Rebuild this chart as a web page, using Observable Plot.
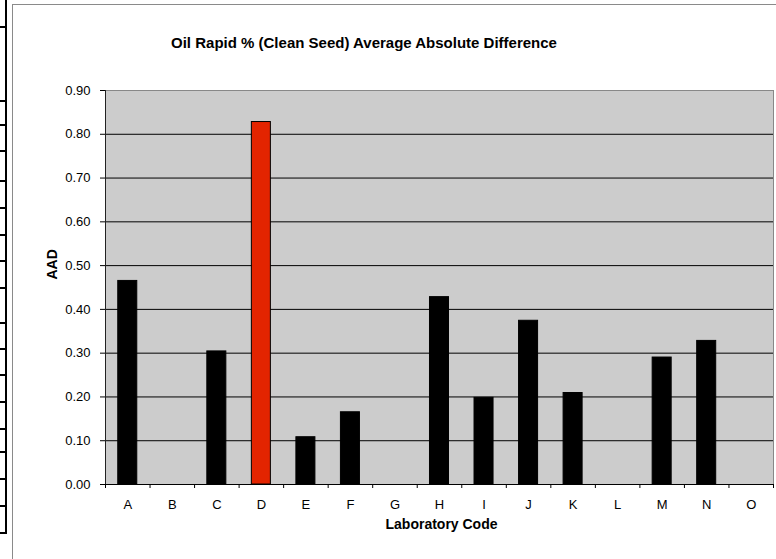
<!DOCTYPE html>
<html>
<head>
<meta charset="utf-8">
<script src="https://cdn.jsdelivr.net/npm/d3@7"></script>
<script src="https://cdn.jsdelivr.net/npm/@observablehq/plot@0.6"></script>
<style>
  html, body { margin: 0; padding: 0; background: #fff; }
  #wrap { position: relative; width: 776px; height: 559px; overflow: hidden; }
  #chart { position: absolute; left: 0; top: 0; }
  .outer { position: absolute; left: 12px; top: 4px; width: 800px; height: 600px;
           border-left: 1.5px solid #8a8a8a; border-top: 1.5px solid #8a8a8a; }
  .tbl-v { position: absolute; left: 5px; top: 0; width: 2px; background: #000; }
  .tbl-h { position: absolute; left: 0; width: 7px; height: 2px; background: #000; }
</style>
</head>
<body>
<div id="wrap">
  <div class="outer"></div>
  <div id="chart"></div>
</div>
<script>
// ---- data ----
const labs = ["A","B","C","D","E","F","G","H","I","J","K","L","M","N","O"];
const aad  = [0.465, null, 0.304, 0.828, 0.108, 0.165, null, 0.428, 0.198, 0.374, 0.209, null, 0.290, 0.328, null];
const highlight = "D";
const yTicks = [0, 0.1, 0.2, 0.3, 0.4, 0.5, 0.6, 0.7, 0.8, 0.9];
const titleText = "Oil Rapid % (Clean Seed) Average Absolute Difference";
const xTitle = "Laboratory Code";
const yTitle = "AAD";
// cropped neighbouring table rows (decoration at left edge)
const tableRows = [26, 100, 124, 150, 180, 207, 234, 260, 287, 322, 348, 374, 401, 428, 451, 478, 505, 532];

const data = labs.map((lab, i) => ({lab, i, aad: aad[i]})).filter(d => d.aad != null);
const half = 0.2135; // half bar width in category units

const font = "'Liberation Sans', Arial, sans-serif";

const chart = Plot.plot({
  width: 776,
  height: 559,
  marginLeft: 105,
  marginRight: 3,
  marginTop: 90,
  marginBottom: 75,
  x: {domain: [0, labs.length]},
  y: {domain: [0, 0.9]},
  style: {fontFamily: font, background: "transparent", color: "#000"},
  marks: [
    Plot.frame({fill: "#cccccc", stroke: null}),
    Plot.gridY(yTicks.filter(v => v > 0 && v < 0.9), {stroke: "#000", strokeOpacity: 1}),
    Plot.frame({anchor: "top", stroke: "#888"}),
    Plot.frame({anchor: "right", stroke: "#888"}),
    Plot.rectY(data, {
      x1: d => d.i + 0.5 - half,
      x2: d => d.i + 0.5 + half,
      y1: 0,
      y2: "aad",
      fill: d => d.lab === highlight ? "#e32400" : "#000",
      stroke: "#000",
      strokeWidth: 1
    }),
    Plot.frame({anchor: "left", stroke: "#222"}),
    Plot.ruleY([0], {stroke: "#000"}),
    Plot.axisY({ticks: yTicks, tickFormat: d3.format(".2f"), tickSize: 5, tickPadding: 10, fontSize: 13, label: null}),
    Plot.axisX({ticks: d3.range(labs.length + 1), tickFormat: () => "", tickSize: 4, label: null}),
    Plot.text(labs, {x: (d, i) => i + 0.5, frameAnchor: "bottom", dy: 24, fontSize: 13}),
    Plot.text([xTitle], {frameAnchor: "bottom", dx: 2, dy: 44, fontSize: 14, fontWeight: "bold"}),
    Plot.text([yTitle], {frameAnchor: "left", dx: -53, dy: -8, rotate: -90, fontSize: 14, fontWeight: "bold"}),
    Plot.text([titleText], {frameAnchor: "top-left", dx: 258.5, dy: -53.5, fontSize: 15, fontWeight: "bold", textAnchor: "middle"})
  ]
});
document.getElementById("chart").appendChild(chart);

// decoration: cropped table on the left
const wrap = document.getElementById("wrap");
const v = document.createElement("div");
v.className = "tbl-v";
v.style.height = (tableRows[tableRows.length - 1] + 2) + "px";
wrap.appendChild(v);
tableRows.forEach(y => {
  const h = document.createElement("div");
  h.className = "tbl-h";
  h.style.top = y + "px";
  wrap.appendChild(h);
});
</script>
</body>
</html>
